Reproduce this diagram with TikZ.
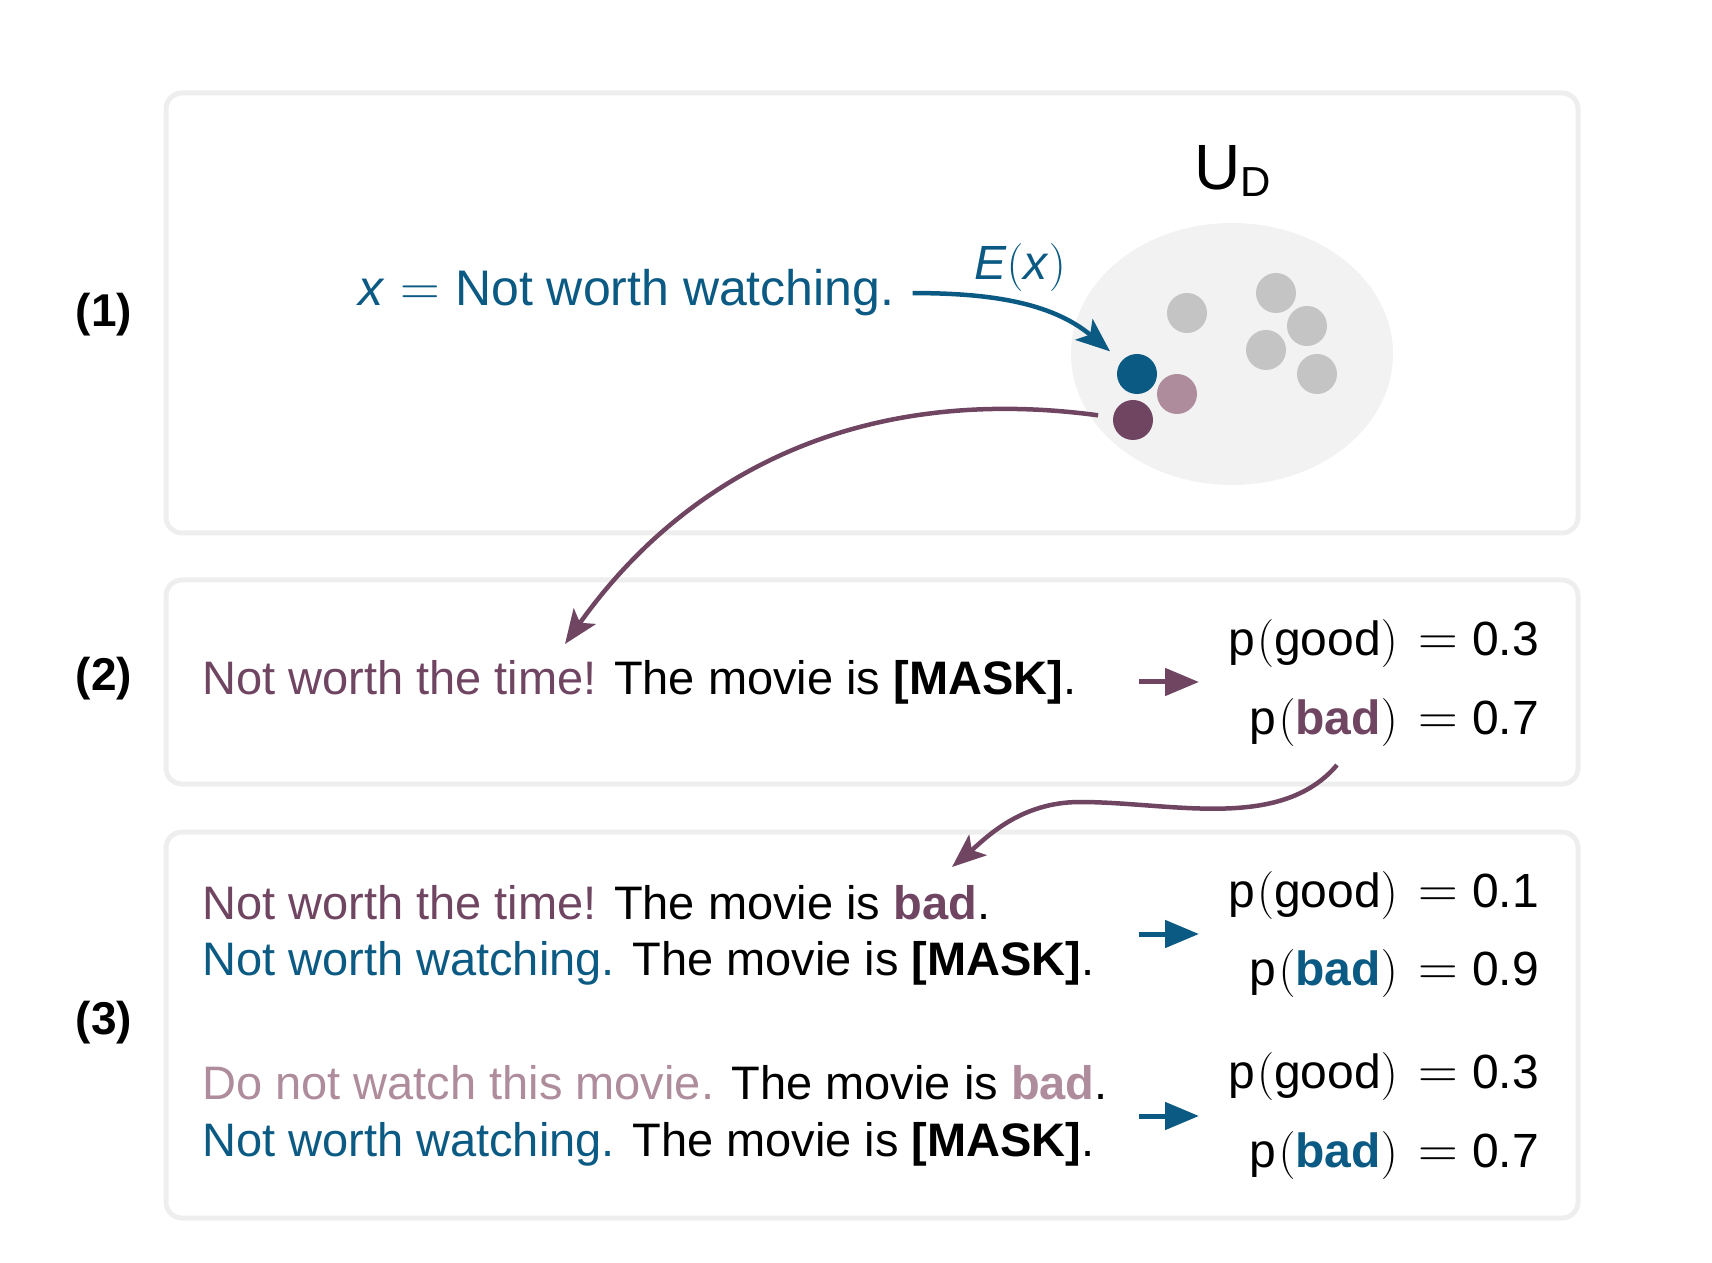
\RequirePackage{fix-cm}
\documentclass[tikz,border=0pt]{standalone}
\usepackage[no-math]{fontspec}
\setmainfont{Liberation Sans}
\usetikzlibrary{arrows.meta, shapes.geometric}
\definecolor{wblue}{HTML}{0B5A84}
\definecolor{wplum}{HTML}{6F4562}
\definecolor{wlilac}{HTML}{AE8C9C}
\definecolor{wgrey}{HTML}{C4C4C4}
\definecolor{wfog}{HTML}{F2F2F2}
\definecolor{wframe}{HTML}{EEEEEE}
\newcommand{\bigeq}{{\fontsize{55}{60}\selectfont$=$}}
\newcommand{\pr}[2]{p\hspace{.04em}$($#1$)$\hspace{.42em}\bigeq\hspace{.3em}#2}
\begin{document}
\begin{tikzpicture}[x=1pt, y=1pt,
  panel/.style={draw=wframe, line width=5pt, rounded corners=16pt},
  txt/.style={anchor=base west, inner sep=0pt, font=\fontsize{47}{56}\selectfont},
  prob/.style={anchor=base east, inner sep=0pt, font=\fontsize{48}{56}\selectfont},
  tag/.style={inner sep=0pt, font=\fontsize{46}{55}\selectfont\bfseries},
  dot/.style={circle, inner sep=0pt, minimum size=40pt},
  link/.style={line width=4.5pt, -{Stealth[length=34pt, width=27pt, inset=8pt]}},
  short/.style={line width=5pt, -{Triangle[length=34pt, width=27pt]}}]
\useasboundingbox (0,0) rectangle (1712,1262);
% panels
\draw[panel] (166,729) rectangle (1578,1169);
\draw[panel] (166,478) rectangle (1578,682);
\draw[panel] (166,44) rectangle (1578,430);
\node[tag] (n1) at (104,947) {(1)};
\node[tag] (n2) at (104,583) {(2)};
\node[tag] (n3) at (104,239) {(3)};

% (1) embedding space
\node[ellipse, fill=wfog, minimum width=322pt, minimum height=262pt] (space) at (1232,908) {};
\node[anchor=base west, inner sep=0pt, font=\fontsize{64}{70}\selectfont] (udlab) at (1194,1072) {U\raisebox{-7pt}{\fontsize{42}{46}\selectfont D}};
\foreach \p [count=\i] in {(1187,949),(1276,969),(1307,936),(1266,912),(1317,888)}
  \node[dot, fill=wgrey] (g\i) at \p {};
\node[dot, fill=wlilac] (lp) at (1177,868) {};
\node[dot, fill=wblue] (q) at (1137,888) {};
\node[dot, fill=wplum] (dp) at (1133,842) {};
\node[txt, wblue, font=\fontsize{50}{60}\selectfont] (xtxt) at (358,956) {\textit{x}\hspace{.32em}\bigeq\hspace{.3em}Not worth watching.};
\node[anchor=base, inner sep=0pt, font=\fontsize{48}{56}\selectfont, wblue] (ex) at (1020,982) {\textit{E}$($\textit{x}$)$};
\draw[link, wblue, shorten <=18pt, shorten >=15pt] (xtxt.east) to[out=0, in=140] (q);

% (2)
\node[txt] (s2) at (202,567) {\textcolor{wplum}{Not worth the time!} The movie is \textbf{[MASK]}.};
\node[prob] (g2) at (1539,606) {\pr{good}{0.3}};
\node[prob] (b2) at (1539,527) {\pr{\textcolor{wplum}{\textbf{bad}}}{0.7}};
\coordinate (a2s) at (1139,580);
\coordinate (a2e) at (1199,580);
\draw[short, wplum] (a2s) -- (a2e);
\coordinate (t2) at (565,618);
\draw[link, wplum, shorten <=15pt] (dp) .. controls (850,880) and (680,780) .. (t2);

% (3)
\node[txt] (s3a) at (202,343) {\textcolor{wplum}{Not worth the time!} The movie is \textcolor{wplum}{\textbf{bad}}.};
\node[txt] (s3b) at (202,287) {\textcolor{wblue}{Not worth watching.} The movie is \textbf{[MASK]}.};
\node[txt] (s3c) at (202,163) {\textcolor{wlilac}{Do not watch this movie.} The movie is \textcolor{wlilac}{\textbf{bad}}.};
\node[txt] (s3d) at (202,106) {\textcolor{wblue}{Not worth watching.} The movie is \textbf{[MASK]}.};
\node[prob] (g3a) at (1539,355) {\pr{good}{0.1}};
\node[prob] (b3a) at (1539,277) {\pr{\textcolor{wblue}{\textbf{bad}}}{0.9}};
\node[prob] (g3b) at (1539,174) {\pr{good}{0.3}};
\node[prob] (b3b) at (1539,95) {\pr{\textcolor{wblue}{\textbf{bad}}}{0.7}};
\coordinate (a3s) at (1139,328);
\coordinate (a3e) at (1199,328);
\coordinate (a4s) at (1139,146);
\coordinate (a4e) at (1199,146);
\draw[short, wblue] (a3s) -- (a3e);
\draw[short, wblue] (a4s) -- (a4e);
\coordinate (f2) at (1337,497);
\coordinate (t3) at (952,395);
\draw[link, wplum] (f2) .. controls (1280,430) and (1170,460) .. (1080,460) .. controls (1020,460) and (986,424) .. (t3);
\end{tikzpicture}
\end{document}
